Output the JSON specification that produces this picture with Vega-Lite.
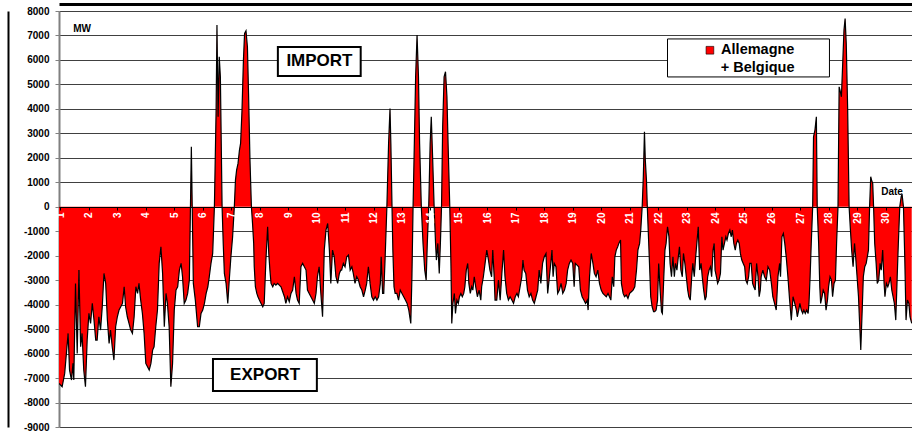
{
  "$schema": "https://vega.github.io/schema/vega-lite/v6.json",
  "width": 853,
  "height": 416,
  "autosize": {"type": "none"},
  "padding": {"left": 59, "top": 11, "right": 0, "bottom": 17},
  "background": "white",
  "config": {"view": {"stroke": null}, "font": "Liberation Sans"},
  "datasets": {
    "series": [
      {"d":0.95,"v":-7219},{"d":1.06,"v":-7355},{"d":1.15,"v":-6810},{"d":1.27,"v":-5176},{"d":1.32,"v":-6674},{"d":1.39,"v":-7082},{"d":1.44,"v":-6401},{"d":1.47,"v":-7082},{"d":1.53,"v":-3133},{"d":1.59,"v":-5993},{"d":1.65,"v":-2588},{"d":1.71,"v":-5720},{"d":1.76,"v":-5176},{"d":1.82,"v":-6674},{"d":1.88,"v":-7355},{"d":1.94,"v":-5448},
      {"d":2.00,"v":-4358},{"d":2.06,"v":-4767},{"d":2.12,"v":-3950},{"d":2.18,"v":-4631},{"d":2.24,"v":-5448},{"d":2.29,"v":-5448},{"d":2.35,"v":-4495},{"d":2.41,"v":-5039},{"d":2.47,"v":-4086},{"d":2.53,"v":-2724},{"d":2.59,"v":-3133},{"d":2.65,"v":-4631},{"d":2.71,"v":-5584},{"d":2.76,"v":-5039},{"d":2.82,"v":-5720},{"d":2.88,"v":-6265},{"d":2.94,"v":-4903},
      {"d":3.00,"v":-4495},{"d":3.06,"v":-4222},{"d":3.12,"v":-4086},{"d":3.18,"v":-3950},{"d":3.24,"v":-3269},{"d":3.29,"v":-4086},{"d":3.35,"v":-4495},{"d":3.41,"v":-4767},{"d":3.47,"v":-5039},{"d":3.53,"v":-5176},{"d":3.59,"v":-4495},{"d":3.65,"v":-3269},{"d":3.71,"v":-3541},{"d":3.76,"v":-3133},{"d":3.82,"v":-3814},{"d":3.88,"v":-4358},{"d":3.94,"v":-5176},
      {"d":4.00,"v":-6401},{"d":4.06,"v":-6538},{"d":4.12,"v":-6674},{"d":4.18,"v":-6401},{"d":4.24,"v":-5857},{"d":4.29,"v":-5720},{"d":4.35,"v":-4903},{"d":4.41,"v":-4222},{"d":4.47,"v":-2315},{"d":4.53,"v":-1634},{"d":4.59,"v":-2724},{"d":4.65,"v":-4903},{"d":4.71,"v":-3541},{"d":4.76,"v":-3950},{"d":4.82,"v":-4903},{"d":4.88,"v":-7355},{"d":4.94,"v":-6401},
      {"d":5.00,"v":-4222},{"d":5.06,"v":-3405},{"d":5.12,"v":-3269},{"d":5.18,"v":-2588},{"d":5.24,"v":-2315},{"d":5.29,"v":-2860},{"d":5.35,"v":-3950},{"d":5.41,"v":-3814},{"d":5.47,"v":-3541},{"d":5.53,"v":-2996},{"d":5.60,"v":2452},{"d":5.67,"v":-3133},{"d":5.74,"v":-3814},{"d":5.82,"v":-4903},
      {"d":5.88,"v":-4903},{"d":5.94,"v":-4358},{"d":6.00,"v":-4222},{"d":6.06,"v":-3950},{"d":6.12,"v":-3541},{"d":6.18,"v":-3269},{"d":6.23,"v":-2860},{"d":6.29,"v":-2315},{"d":6.35,"v":-1907},{"d":6.41,"v":0},{"d":6.47,"v":3950},{"d":6.50,"v":7423},{"d":6.54,"v":3677},{"d":6.58,"v":6129},{"d":6.62,"v":5312},{"d":6.68,"v":0},{"d":6.72,"v":-1498},{"d":6.76,"v":-2724},{"d":6.82,"v":-3133},{"d":6.88,"v":-3950},{"d":6.94,"v":-2860},{"d":6.99,"v":-2043},
      {"d":7.05,"v":-1226},{"d":7.11,"v":0},{"d":7.15,"v":1090},{"d":7.19,"v":1498},{"d":7.24,"v":1771},{"d":7.29,"v":2315},{"d":7.33,"v":2588},{"d":7.38,"v":3950},{"d":7.43,"v":5993},{"d":7.47,"v":7082},{"d":7.52,"v":7191},{"d":7.57,"v":6538},{"d":7.61,"v":4631},{"d":7.66,"v":1907},{"d":7.71,"v":0},{"d":7.75,"v":-681},{"d":7.79,"v":-1498},{"d":7.81,"v":-2452},{"d":7.85,"v":-3269},{"d":7.90,"v":-3541},{"d":7.94,"v":-3677},{"d":7.99,"v":-3814},
      {"d":8.05,"v":-3950},{"d":8.11,"v":-4086},{"d":8.16,"v":-3950},{"d":8.22,"v":-2179},{"d":8.28,"v":-817},{"d":8.32,"v":-1907},{"d":8.36,"v":-2588},{"d":8.40,"v":-3133},{"d":8.46,"v":-3269},{"d":8.51,"v":-3133},{"d":8.57,"v":-3201},{"d":8.63,"v":-3133},{"d":8.69,"v":-3201},{"d":8.75,"v":-3269},{"d":8.81,"v":-3473},{"d":8.87,"v":-3677},{"d":8.92,"v":-3950},{"d":8.98,"v":-3677},
      {"d":9.04,"v":-3882},{"d":9.10,"v":-3541},{"d":9.16,"v":-3405},{"d":9.22,"v":-2860},{"d":9.28,"v":-3541},{"d":9.33,"v":-3814},{"d":9.39,"v":-3950},{"d":9.45,"v":-2452},{"d":9.51,"v":-2315},{"d":9.57,"v":-2452},{"d":9.63,"v":-2588},{"d":9.68,"v":-3405},{"d":9.74,"v":-3541},{"d":9.80,"v":-3677},{"d":9.86,"v":-3814},{"d":9.92,"v":-3950},{"d":9.98,"v":-3541},
      {"d":10.03,"v":-2860},{"d":10.09,"v":-2452},{"d":10.15,"v":-3541},{"d":10.21,"v":-4495},{"d":10.27,"v":-1771},{"d":10.33,"v":-953},{"d":10.39,"v":-681},{"d":10.45,"v":-1771},{"d":10.50,"v":-3133},{"d":10.56,"v":-1771},{"d":10.62,"v":-2043},{"d":10.68,"v":-2860},{"d":10.74,"v":-3133},{"d":10.80,"v":-2724},{"d":10.85,"v":-2588},
      {"d":10.88,"v":-2588},{"d":10.94,"v":-2315},{"d":11.00,"v":-2452},{"d":11.06,"v":-2043},{"d":11.12,"v":-1975},{"d":11.18,"v":-2588},{"d":11.24,"v":-2452},{"d":11.29,"v":-2724},{"d":11.35,"v":-3133},{"d":11.41,"v":-2860},{"d":11.47,"v":-2996},{"d":11.53,"v":-3269},{"d":11.59,"v":-3405},{"d":11.65,"v":-3677},{"d":11.71,"v":-3405},{"d":11.76,"v":-3133},{"d":11.82,"v":-2452},{"d":11.88,"v":-3133},{"d":11.94,"v":-3677},
      {"d":12.00,"v":-3814},{"d":12.06,"v":-3677},{"d":12.12,"v":-3814},{"d":12.18,"v":-3677},{"d":12.24,"v":-3133},{"d":12.27,"v":-2043},{"d":12.32,"v":-3541},{"d":12.36,"v":-3541},{"d":12.41,"v":-2043},{"d":12.47,"v":0},{"d":12.53,"v":2588},{"d":12.58,"v":4018},{"d":12.61,"v":2588},{"d":12.65,"v":0},{"d":12.68,"v":-1771},{"d":12.72,"v":-3269},{"d":12.76,"v":-3541},{"d":12.82,"v":-3541},{"d":12.88,"v":-3814},{"d":12.94,"v":-3405},
      {"d":13.00,"v":-3541},{"d":13.06,"v":-3677},{"d":13.12,"v":-3814},{"d":13.18,"v":-3950},{"d":13.24,"v":-4222},{"d":13.31,"v":-4767},{"d":13.35,"v":-2860},{"d":13.39,"v":0},{"d":13.43,"v":2315},{"d":13.48,"v":5312},{"d":13.53,"v":7014},{"d":13.58,"v":5312},{"d":13.62,"v":2588},{"d":13.68,"v":0},{"d":13.74,"v":-1498},{"d":13.80,"v":-2588},{"d":13.85,"v":-2996},{"d":13.89,"v":-1498},{"d":13.94,"v":0},{"d":13.99,"v":2588},
      {"d":14.03,"v":3677},{"d":14.08,"v":1907},{"d":14.13,"v":0},{"d":14.18,"v":-1498},{"d":14.21,"v":-2179},{"d":14.26,"v":-1498},{"d":14.31,"v":-2724},{"d":14.35,"v":-1498},{"d":14.39,"v":0},{"d":14.43,"v":3269},{"d":14.48,"v":5312},{"d":14.53,"v":5516},{"d":14.58,"v":4495},{"d":14.62,"v":2588},{"d":14.68,"v":0},{"d":14.72,"v":-2315},{"d":14.75,"v":-4767},{"d":14.79,"v":-3950},{"d":14.84,"v":-3541},{"d":14.88,"v":-4358},{"d":14.93,"v":-3814},{"d":14.98,"v":-3950},
      {"d":15.02,"v":-3677},{"d":15.07,"v":-3541},{"d":15.12,"v":-3677},{"d":15.17,"v":-3541},{"d":15.21,"v":-3269},{"d":15.26,"v":-2588},{"d":15.31,"v":-2315},{"d":15.35,"v":-3133},{"d":15.40,"v":-3541},{"d":15.45,"v":-3269},{"d":15.49,"v":-3405},{"d":15.54,"v":-2860},{"d":15.59,"v":-3269},{"d":15.65,"v":-3677},{"d":15.71,"v":-3405},{"d":15.77,"v":-3814},
      {"d":15.80,"v":-3269},{"d":15.86,"v":-2860},{"d":15.92,"v":-2315},{"d":15.98,"v":-1771},{"d":16.04,"v":-2179},{"d":16.09,"v":-2588},{"d":16.15,"v":-2860},{"d":16.19,"v":-1771},{"d":16.24,"v":-2860},{"d":16.27,"v":-3814},{"d":16.33,"v":-3814},{"d":16.39,"v":-2996},{"d":16.45,"v":-3814},{"d":16.51,"v":-2724},{"d":16.57,"v":-1771},{"d":16.62,"v":-2860},{"d":16.68,"v":-3541},{"d":16.74,"v":-3814},{"d":16.80,"v":-3677},{"d":16.86,"v":-3814},{"d":16.92,"v":-3950},{"d":16.98,"v":-3677},
      {"d":17.04,"v":-3541},{"d":17.09,"v":-3677},{"d":17.15,"v":-3269},{"d":17.21,"v":-2860},{"d":17.25,"v":-2179},{"d":17.29,"v":-2588},{"d":17.35,"v":-2724},{"d":17.41,"v":-3405},{"d":17.47,"v":-3677},{"d":17.53,"v":-3541},{"d":17.59,"v":-3814},{"d":17.65,"v":-3950},{"d":17.71,"v":-3677},{"d":17.77,"v":-3405},{"d":17.82,"v":-2588},{"d":17.88,"v":-3133},{"d":17.94,"v":-2315},
      {"d":18.00,"v":-2043},{"d":18.06,"v":-1907},{"d":18.12,"v":-3541},{"d":18.18,"v":-2860},{"d":18.24,"v":-2179},{"d":18.27,"v":-1771},{"d":18.31,"v":-2860},{"d":18.35,"v":-2315},{"d":18.41,"v":-2452},{"d":18.47,"v":-3541},{"d":18.53,"v":-3405},{"d":18.59,"v":-3133},{"d":18.65,"v":-3541},{"d":18.71,"v":-3405},{"d":18.77,"v":-3133},{"d":18.82,"v":-2588},{"d":18.88,"v":-2315},{"d":18.94,"v":-2179},
      {"d":19.00,"v":-2315},{"d":19.05,"v":-3269},{"d":19.09,"v":-2315},{"d":19.15,"v":-2384},{"d":19.21,"v":-2452},{"d":19.27,"v":-3405},{"d":19.33,"v":-3677},{"d":19.39,"v":-3814},{"d":19.45,"v":-3950},{"d":19.51,"v":-3814},{"d":19.54,"v":-4222},{"d":19.59,"v":-2860},{"d":19.65,"v":-1907},{"d":19.71,"v":-2315},{"d":19.76,"v":-2724},{"d":19.82,"v":-2860},{"d":19.88,"v":-2588},{"d":19.94,"v":-3133},
      {"d":20.00,"v":-3405},{"d":20.06,"v":-3541},{"d":20.12,"v":-3609},{"d":20.18,"v":-3677},{"d":20.24,"v":-3541},{"d":20.29,"v":-3677},{"d":20.34,"v":-3814},{"d":20.39,"v":-2860},{"d":20.44,"v":-3269},{"d":20.48,"v":-2043},{"d":20.53,"v":-1771},{"d":20.58,"v":-1634},{"d":20.62,"v":-1498},{"d":20.68,"v":-1362},
      {"d":20.71,"v":-3133},{"d":20.77,"v":-3541},{"d":20.82,"v":-3677},{"d":20.88,"v":-3609},{"d":20.94,"v":-3746},{"d":21.00,"v":-3541},{"d":21.06,"v":-3473},{"d":21.12,"v":-3405},{"d":21.18,"v":-3269},{"d":21.24,"v":-2588},{"d":21.29,"v":-1771},{"d":21.35,"v":-1498},{"d":21.39,"v":-953},{"d":21.44,"v":0},{"d":21.48,"v":1226},{"d":21.52,"v":3065},{"d":21.55,"v":1907},{"d":21.59,"v":1090},{"d":21.62,"v":0},{"d":21.67,"v":-1498},{"d":21.71,"v":-2724},{"d":21.74,"v":-3677},{"d":21.79,"v":-4086},{"d":21.84,"v":-4290},{"d":21.88,"v":-4290},{"d":21.93,"v":-4222},{"d":21.98,"v":-3814},
      {"d":22.02,"v":-2315},{"d":22.07,"v":-3405},{"d":22.12,"v":-4290},{"d":22.15,"v":-4358},{"d":22.20,"v":-2860},{"d":22.24,"v":-1771},{"d":22.28,"v":-1498},{"d":22.33,"v":-817},{"d":22.38,"v":-1226},{"d":22.42,"v":-2315},{"d":22.47,"v":-2860},{"d":22.52,"v":-2043},{"d":22.57,"v":-2860},{"d":22.61,"v":-2315},{"d":22.66,"v":-2588},{"d":22.71,"v":-2043},{"d":22.75,"v":-1634},{"d":22.80,"v":-2588},{"d":22.85,"v":-2860},{"d":22.89,"v":-1907},{"d":22.94,"v":-2315},{"d":22.99,"v":-2860},
      {"d":23.04,"v":-3405},{"d":23.08,"v":-3677},{"d":23.13,"v":-3814},{"d":23.18,"v":-2860},{"d":23.22,"v":-2315},{"d":23.27,"v":-2860},{"d":23.32,"v":-2043},{"d":23.37,"v":-1362},{"d":23.41,"v":-817},{"d":23.46,"v":-2588},{"d":23.51,"v":-2315},{"d":23.55,"v":-2860},{"d":23.60,"v":-3405},{"d":23.65,"v":-3814},{"d":23.69,"v":-3677},{"d":23.74,"v":-2860},{"d":23.79,"v":-2588},{"d":23.84,"v":-2452},{"d":23.88,"v":-2860},{"d":23.93,"v":-1771},{"d":23.97,"v":-1498},
      {"d":24.00,"v":-2588},{"d":24.05,"v":-2860},{"d":24.09,"v":-3133},{"d":24.14,"v":-2996},{"d":24.19,"v":-2724},{"d":24.24,"v":-1226},{"d":24.28,"v":-1771},{"d":24.33,"v":-1498},{"d":24.38,"v":-1226},{"d":24.42,"v":-1362},{"d":24.47,"v":-1090},{"d":24.52,"v":-953},{"d":24.57,"v":-1226},{"d":24.61,"v":-953},{"d":24.66,"v":-1498},{"d":24.71,"v":-1771},{"d":24.75,"v":-1498},{"d":24.80,"v":-1362},{"d":24.85,"v":-1498},{"d":24.89,"v":-1907},{"d":24.94,"v":-2179},{"d":24.99,"v":-2315},
      {"d":25.04,"v":-2452},{"d":25.08,"v":-2996},{"d":25.13,"v":-3133},{"d":25.18,"v":-2860},{"d":25.22,"v":-2315},{"d":25.27,"v":-2315},{"d":25.32,"v":-3133},{"d":25.36,"v":-3269},{"d":25.41,"v":-3405},{"d":25.46,"v":-2315},{"d":25.51,"v":-2860},{"d":25.55,"v":-3677},{"d":25.59,"v":-3405},
      {"d":25.62,"v":-2860},{"d":25.68,"v":-2588},{"d":25.74,"v":-2860},{"d":25.80,"v":-2996},{"d":25.86,"v":-2452},{"d":25.92,"v":-2588},{"d":25.98,"v":-3133},{"d":26.03,"v":-3677},{"d":26.09,"v":-3950},{"d":26.15,"v":-4222},{"d":26.21,"v":-2860},{"d":26.27,"v":-2315},{"d":26.30,"v":-2860},{"d":26.35,"v":-1226},{"d":26.40,"v":-1090},{"d":26.45,"v":-1498},{"d":26.50,"v":-2043},{"d":26.56,"v":-2860},{"d":26.62,"v":-3814},{"d":26.68,"v":-4631},{"d":26.74,"v":-3677},{"d":26.80,"v":-3950},{"d":26.86,"v":-4222},{"d":26.89,"v":-4495},{"d":26.94,"v":-4222},{"d":26.98,"v":-3950},
      {"d":27.03,"v":-4222},{"d":27.08,"v":-4358},{"d":27.12,"v":-4222},{"d":27.17,"v":-4358},{"d":27.22,"v":-4222},{"d":27.27,"v":-4358},{"d":27.30,"v":-3950},{"d":27.34,"v":-2860},{"d":27.38,"v":-1498},{"d":27.43,"v":0},{"d":27.46,"v":2860},{"d":27.51,"v":3133},{"d":27.56,"v":3677},{"d":27.59,"v":0},{"d":27.64,"v":-1498},{"d":27.68,"v":-3269},{"d":27.71,"v":-3950},{"d":27.76,"v":-3677},{"d":27.80,"v":-3405},{"d":27.85,"v":-3541},{"d":27.90,"v":-4222},{"d":27.95,"v":-3814},{"d":27.99,"v":-3269},
      {"d":28.04,"v":-2860},{"d":28.09,"v":-2996},{"d":28.13,"v":-3677},{"d":28.18,"v":-3133},{"d":28.23,"v":-2996},{"d":28.27,"v":-1498},{"d":28.32,"v":0},{"d":28.36,"v":4903},{"d":28.39,"v":4767},{"d":28.44,"v":4495},{"d":28.49,"v":5993},{"d":28.53,"v":7219},{"d":28.57,"v":7695},{"d":28.61,"v":6674},{"d":28.66,"v":3950},{"d":28.71,"v":0},{"d":28.75,"v":-817},{"d":28.80,"v":-1771},{"d":28.85,"v":-2452},{"d":28.90,"v":-1498},{"d":28.94,"v":-2043},{"d":28.99,"v":-2860},
      {"d":29.04,"v":-3677},{"d":29.08,"v":-4767},{"d":29.12,"v":-5857},{"d":29.17,"v":-4222},{"d":29.21,"v":-2860},{"d":29.26,"v":-2452},{"d":29.31,"v":-2315},{"d":29.35,"v":-2043},{"d":29.39,"v":-1771},{"d":29.43,"v":0},{"d":29.47,"v":1226},{"d":29.50,"v":1090},{"d":29.54,"v":953},{"d":29.57,"v":0},{"d":29.61,"v":-1498},{"d":29.66,"v":-2315},{"d":29.70,"v":-3133},{"d":29.75,"v":-2996},{"d":29.80,"v":-2315},{"d":29.84,"v":-2588},{"d":29.89,"v":-1771},{"d":29.94,"v":-3133},{"d":29.97,"v":-3677},
      {"d":30.02,"v":-3133},{"d":30.07,"v":-3269},{"d":30.11,"v":-3133},{"d":30.16,"v":-2860},{"d":30.21,"v":-3405},{"d":30.255,"v":-3677},{"d":30.30,"v":-3950},{"d":30.35,"v":-4631},{"d":30.40,"v":-2860},{"d":30.44,"v":-1498},{"d":30.49,"v":0},{"d":30.54,"v":409},{"d":30.57,"v":518},{"d":30.62,"v":0},{"d":30.665,"v":-2043},{"d":30.71,"v":-4631},{"d":30.76,"v":-3814},{"d":30.81,"v":-3950},{"d":30.85,"v":-4495},{"d":30.91,"v":-4767}
    ],
    "boxes": [
      {"label": "IMPORT", "x1": 8.64, "x2": 11.55, "y1": 5346, "y2": 6531, "cx": 10.1, "cy": 5938},
      {"label": "EXPORT", "x1": 6.36, "x2": 10.01, "y1": -7528, "y2": -6220, "cx": 8.19, "cy": -6874}
    ],
    "legendbox": [
      {"x1": 22.33, "x2": 28.02, "y1": 5305, "y2": 6858}
    ],
    "legendmark": [{"name": "Allemagne + Belgique", "x": 23.82, "y": 6396}],
    "legendtext": [
      {"t": "Allemagne", "x": 26.79, "y": 6408},
      {"t": "+ Belgique", "x": 26.79, "y": 5660}
    ],
    "small": [
      {"t": "MW", "x": 1.76, "y": 7267},
      {"t": "Date", "x": 30.22, "y": 605}
    ]
  },
  "resolve": {"axis": {"x": "independent", "y": "independent"}},
  "layer": [
    {
      "data": {"name": "series"},
      "mark": {"type": "area", "color": "#FF0000", "clip": true},
      "encoding": {
        "x": {"field": "d", "type": "quantitative",
          "scale": {"domain": [0.95, 30.92], "nice": false, "zero": false},
          "axis": {"orient": "bottom", "offset": -220, "values": [1,2,3,4,5,6,7,8,9,10,11,12,13,14,15,16,17,18,19,20,21,22,23,24,25,26,27,28,29,30],
            "labelAngle": 270, "labelColor": "white", "labelFontWeight": "bold", "labelFontSize": 10, "labelFont": "Liberation Sans",
            "tickSize": 3, "tickColor": "black", "labelPadding": 2, "domainColor": "black", "domainWidth": 1,
            "grid": false, "title": null, "zindex": 1, "labelOverlap": false, "labelBound": false, "labelFlush": false}},
        "y": {"field": "v", "type": "quantitative",
          "scale": {"domain": [-9000, 8000], "nice": false, "zero": false},
          "axis": {"orient": "left", "values": [-9000,-8000,-7000,-6000,-5000,-4000,-3000,-2000,-1000,0,1000,2000,3000,4000,5000,6000,7000,8000],
            "labelExpr": "'' + datum.value", "grid": true, "gridColor": "#404040", "gridWidth": 1,
            "domainColor": "#808080", "domainWidth": 2, "tickColor": "#808080", "tickSize": 4, "labelPadding": 6,
            "labelFont": "Liberation Sans", "labelFontWeight": "bold", "labelFontSize": 10, "labelColor": "black", "title": null, "labelOverlap": false, "labelFlush": false}},
        "y2": {"datum": 0}
      }
    },
    {
      "data": {"name": "series"},
      "mark": {"type": "line", "color": "black", "strokeWidth": 1.2, "clip": true},
      "encoding": {
        "x": {"field": "d", "type": "quantitative", "axis": null},
        "y": {"field": "v", "type": "quantitative", "axis": null}
      }
    },
    {
      "data": {"name": "boxes"},
      "mark": {"type": "rect", "fill": "white", "stroke": "black", "strokeWidth": 2},
      "encoding": {
        "x": {"field": "x1", "type": "quantitative", "axis": null},
        "x2": {"field": "x2"},
        "y": {"field": "y1", "type": "quantitative", "axis": null},
        "y2": {"field": "y2"}
      }
    },
    {
      "data": {"name": "boxes"},
      "mark": {"type": "text", "font": "Liberation Sans", "fontWeight": "bold", "fontSize": 17, "color": "black", "align": "center", "baseline": "middle"},
      "encoding": {
        "x": {"field": "cx", "type": "quantitative", "axis": null},
        "y": {"field": "cy", "type": "quantitative", "axis": null},
        "text": {"field": "label"}
      }
    },
    {
      "data": {"name": "legendbox"},
      "mark": {"type": "rect", "fill": "white", "stroke": "black", "strokeWidth": 1},
      "encoding": {
        "x": {"field": "x1", "type": "quantitative", "axis": null},
        "x2": {"field": "x2"},
        "y": {"field": "y1", "type": "quantitative", "axis": null},
        "y2": {"field": "y2"}
      }
    },
    {
      "data": {"name": "legendmark"},
      "mark": {"type": "square", "size": 60, "fill": "#FF0000", "stroke": "black", "strokeWidth": 0.6, "opacity": 1, "filled": true},
      "encoding": {
        "x": {"field": "x", "type": "quantitative", "axis": null},
        "y": {"field": "y", "type": "quantitative", "axis": null}
      }
    },
    {
      "data": {"name": "legendtext"},
      "mark": {"type": "text", "font": "Liberation Sans", "fontWeight": "bold", "fontSize": 14.5, "color": "black", "align": "right", "baseline": "middle"},
      "encoding": {
        "x": {"field": "x", "type": "quantitative", "axis": null},
        "y": {"field": "y", "type": "quantitative", "axis": null},
        "text": {"field": "t"}
      }
    },
    {
      "data": {"name": "small"},
      "mark": {"type": "text", "font": "Liberation Sans", "fontWeight": "bold", "fontSize": 10, "color": "black", "align": "center", "baseline": "middle"},
      "encoding": {
        "x": {"field": "x", "type": "quantitative",
          "axis": {"orient": "top", "offset": 7, "domainColor": "black", "domainWidth": 3, "labels": false, "ticks": false, "grid": false, "title": null}},
        "y": {"field": "y", "type": "quantitative",
          "axis": {"orient": "left", "offset": 51, "domainColor": "black", "domainWidth": 2, "labels": false, "ticks": false, "grid": false, "title": null}},
        "text": {"field": "t"}
      }
    }
  ]
}
